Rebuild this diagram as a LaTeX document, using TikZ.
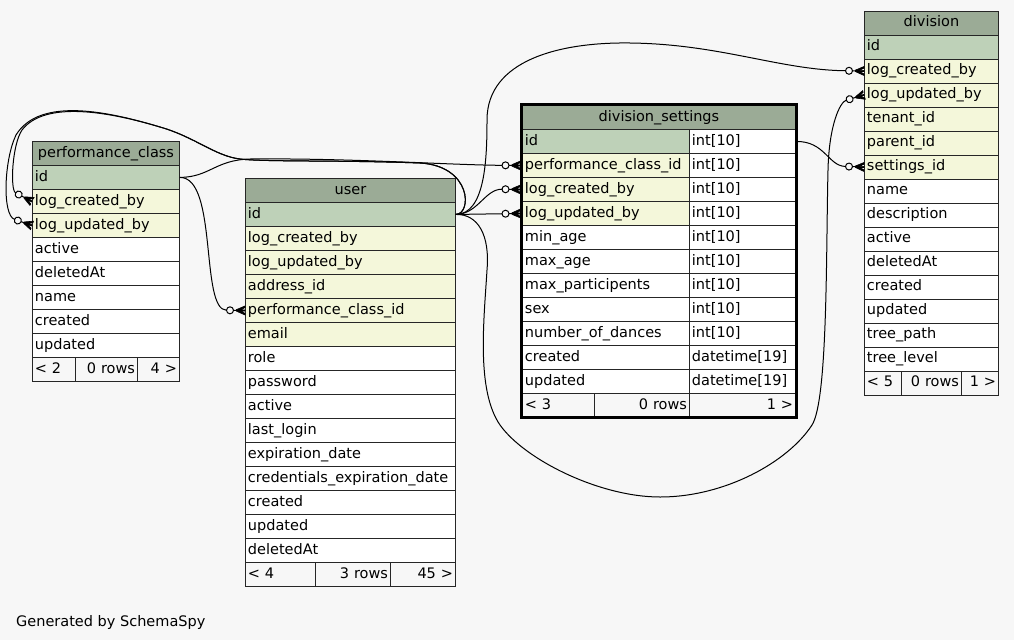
\documentclass[tikz,border=0pt]{standalone}
\usepackage{fontspec}
\setmainfont{DejaVu Sans}
\usetikzlibrary{arrows.meta}

\definecolor{bg}{HTML}{F7F7F7}
\definecolor{head}{HTML}{9BAB96}
\definecolor{pk}{HTML}{BED1B8}
\definecolor{fk}{HTML}{F4F7DA}
\definecolor{rim}{HTML}{262626}

% crow's foot with an open dot behind it
\pgfdeclarearrow{
  name=crowodot,
  setup code={
    \pgfarrowssettipend{0pt}
    \pgfarrowssetlineend{-18.5pt}
    \pgfarrowssetbackend{-19pt}
    \pgfarrowssetvisualbackend{-19pt}
    \pgfarrowshullpoint{0pt}{4.5pt}
    \pgfarrowshullpoint{0pt}{-4.5pt}
    \pgfarrowshullpoint{-19pt}{4pt}
    \pgfarrowshullpoint{-19pt}{-4pt}
  },
  drawing code={
    \pgfsetlinewidth{0.6pt}
    \pgfpathmoveto{\pgfpoint{0pt}{4.5pt}}
    \pgfpathlineto{\pgfpoint{-8.5pt}{0.8pt}}
    \pgfpathlineto{\pgfpoint{-8.5pt}{-0.8pt}}
    \pgfpathlineto{\pgfpoint{0pt}{-4.5pt}}
    \pgfpathlineto{\pgfpoint{0pt}{-2.8pt}}
    \pgfpathlineto{\pgfpoint{-4.5pt}{-0.6pt}}
    \pgfpathlineto{\pgfpoint{0pt}{-0.6pt}}
    \pgfpathlineto{\pgfpoint{0pt}{0.6pt}}
    \pgfpathlineto{\pgfpoint{-4.5pt}{0.6pt}}
    \pgfpathlineto{\pgfpoint{0pt}{2.8pt}}
    \pgfpathclose
    \pgfusepathqfillstroke
    \pgfsetlinewidth{1pt}
    \pgfpathmoveto{\pgfpoint{-11.5pt}{0pt}}
    \pgfpathlineto{\pgfpoint{-8pt}{0pt}}
    \pgfusepathqstroke
    \pgfpathcircle{\pgfpoint{-15pt}{0pt}}{3.5pt}
    \pgfusepathqstroke
  }
}

\begin{document}
\catcode`\_=12
\begin{tikzpicture}[x=1pt,y=-1pt,font=\fontsize{14.5}{17}\selectfont,
  cellbox/.style={draw=rim, line width=0.9pt, fill=#1, anchor=north west,
    minimum height=24pt, inner xsep=2.5pt, inner ysep=0pt,
    text height=11pt, text depth=3pt, align=left},
  fkline/.style={draw=black, line width=1pt, -{crowodot}}]

\fill[bg] (0,0) rectangle (1014,640);
\useasboundingbox (0,0) rectangle (1014,640);

% performance_class
\node[cellbox=head, align=center, text width=142pt] (pc) at (32,141) {performance_class};
\foreach \f/\k [count=\i] in {id/pk, log_created_by/fk, log_updated_by/fk, active/white,
    deletedAt/white, name/white, created/white, updated/white}
  \node[cellbox=\k, text width=142pt] (pc-\f) at (32,141+24*\i) {\f};
\node[cellbox=bg, text width=38pt] (pc-prev) at (32,357) {< 2};
\node[cellbox=bg, text width=57pt, align=right] (pc-rows) at (75,357) {0 rows};
\node[cellbox=bg, text width=37pt, align=right] (pc-next) at (137,357) {4 >};

% user
\node[cellbox=head, align=center, text width=205pt] (user) at (245,178) {user};
\foreach \f/\k [count=\i] in {id/pk, log_created_by/fk, log_updated_by/fk, address_id/fk,
    performance_class_id/fk, email/fk, role/white, password/white, active/white,
    last_login/white, expiration_date/white, credentials_expiration_date/white,
    created/white, updated/white, deletedAt/white}
  \node[cellbox=\k, text width=205pt] (user-\f) at (245,178+24*\i) {\f};
\node[cellbox=bg, text width=65pt] (user-prev) at (245,562) {< 4};
\node[cellbox=bg, text width=70pt, align=right] (user-rows) at (315,562) {3 rows};
\node[cellbox=bg, text width=60pt, align=right] (user-next) at (390,562) {45 >};

% division_settings
\node[cellbox=head, align=center, text width=268pt] (ds) at (522,105) {division_settings};
\foreach \f/\k/\t [count=\i] in {id/pk/int[10], performance_class_id/fk/int[10],
    log_created_by/fk/int[10], log_updated_by/fk/int[10], min_age/white/int[10],
    max_age/white/int[10], max_participents/white/int[10], sex/white/int[10],
    number_of_dances/white/int[10], created/white/datetime[19], updated/white/datetime[19]}
{
  \node[cellbox=\k, text width=162pt] (ds-\f) at (522,105+24*\i) {\f};
  \node[cellbox=white, text width=101pt] (ds-\f-type) at (689,105+24*\i) {\t};
}
\node[cellbox=bg, text width=67pt] (ds-prev) at (522,393) {< 3};
\node[cellbox=bg, text width=90pt, align=right] (ds-rows) at (594,393) {0 rows};
\node[cellbox=bg, text width=101pt, align=right] (ds-next) at (689,393) {1 >};
\draw[line width=3pt] (521,104.5) rectangle (796,417.5);

% division
\node[cellbox=head, align=center, text width=129pt] (division) at (864,10.5) {division};
\foreach \f/\k [count=\i] in {id/pk, log_created_by/fk, log_updated_by/fk, tenant_id/fk,
    parent_id/fk, settings_id/fk, name/white, description/white, active/white,
    deletedAt/white, created/white, updated/white, tree_path/white, tree_level/white}
  \node[cellbox=\k, text width=129pt] (division-\f) at (864,10.5+24*\i) {\f};
\node[cellbox=bg, text width=32pt] (division-prev) at (864,370.5) {< 5};
\node[cellbox=bg, text width=55pt, align=right] (division-rows) at (901,370.5) {0 rows};
\node[cellbox=bg, text width=32pt, align=right] (division-next) at (961,370.5) {1 >};

% relations
\draw[fkline] (pc-id.east) .. controls (218,177) and (200,310) .. (user-performance_class_id.west);
\draw[fkline, shorten >=1.5pt] (pc-id.east) .. controls (210,177) and (215,160) .. (250,159)
  .. controls (350,158) and (450,165) .. (ds-performance_class_id.west);

\draw[fkline] (user-id.east) .. controls (472,214) and (472,166) .. (420,163)
  .. controls (340,160) and (265,162) .. (240,159) .. controls (215,156) and (195,137) .. (160,127)
  .. controls (110,112) and (45,100) .. (22,130) .. controls (12,145) and (10,190) .. (pc-log_created_by.west);
\draw[fkline] (user-id.east) .. controls (472,214) and (472,166) .. (420,163)
  .. controls (340,160) and (265,162) .. (240,159) .. controls (215,156) and (195,137) .. (160,127)
  .. controls (110,112) and (40,96) .. (16,135) .. controls (4,160) and (2,215) .. (pc-log_updated_by.west);

\draw[fkline, shorten >=1.5pt] (user-id.east) .. controls (478,214) and (485,189) .. (ds-log_created_by.west);
\draw[fkline, shorten >=1.5pt] (user-id.east) -- (ds-log_updated_by.west);

\draw[fkline] (user-id.east) .. controls (485,214) and (487,160) .. (487,120)
  .. controls (487,60) and (560,42) .. (630,43) .. controls (720,44) and (780,70) .. (division-log_created_by.west);
\draw[fkline] (user-id.east) .. controls (478,214) and (490,235) .. (487,270)
  .. controls (484,320) and (476,390) .. (500,425) .. controls (525,460) and (600,497) .. (660,497)
  .. controls (725,497) and (788,462) .. (812,425) .. controls (828,400) and (826,250) .. (828,170)
  .. controls (829,125) and (840,102) .. (division-log_updated_by.west);

\draw[fkline] (ds-id-type.east) .. controls (825,141) and (828,166) .. (division-settings_id.west);

\node[anchor=base west, inner sep=0pt] (credit) at (16,626) {Generated by SchemaSpy};

\end{tikzpicture}
\end{document}
